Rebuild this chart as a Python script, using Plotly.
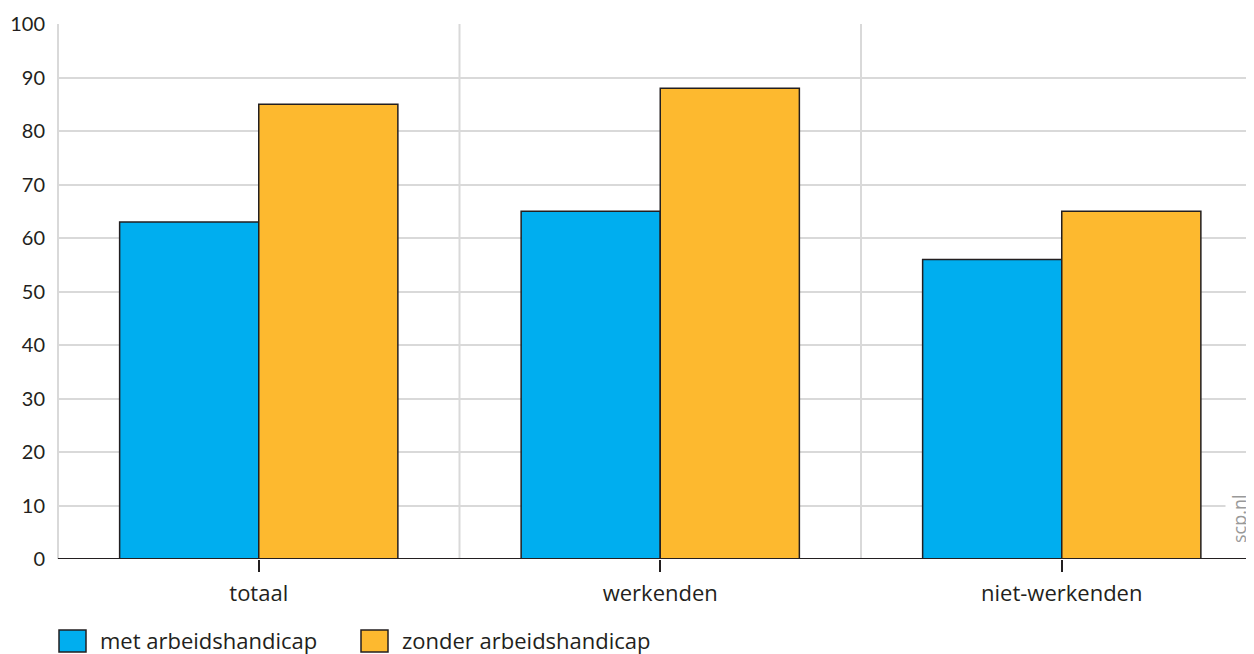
import plotly.graph_objects as go

categories = ["totaal", "werkenden", "niet-werkenden"]
met = [63, 65, 56]
zonder = [85, 88, 65]
series_names = ["met arbeidshandicap", "zonder arbeidshandicap"]
colors = ["#00AEEF", "#FDB92F"]
y_ticks = [0, 10, 20, 30, 40, 50, 60, 70, 80, 90, 100]

xpos = list(range(len(categories)))
fig = go.Figure()
for name, vals, col in zip(series_names, [met, zonder], colors):
    fig.add_trace(go.Bar(x=xpos, y=vals, name=name, marker_color=col,
                         marker_line_color="#231F20", marker_line_width=1.5,
                         showlegend=False))

# page body has an 8px margin; compensate
OFF = 8
W, H = 1254 - OFF, 654 - OFF
ml, mr, mt, mb = 58 - OFF, 0, 24 - OFF, 95
plot_w = W - ml - mr
plot_h = H - mt - mb
cat_px = 401.5
xmax = -0.5 + plot_w / cat_px

shapes = []
for b in [0.5, 1.5]:
    shapes.append(dict(type="line", xref="x", yref="paper", x0=b, x1=b, y0=0, y1=1,
                       line=dict(color="#D9D9D9", width=2), layer="below"))
annotations = []
leg_x = [1, 303]
for i, (name, col) in enumerate(zip(series_names, colors)):
    x0 = leg_x[i]
    shapes.append(dict(type="rect", xref="paper", yref="paper",
                       x0=x0 / plot_w, x1=(x0 + 27) / plot_w,
                       y0=-(652 - 559) / plot_h, y1=-(630 - 559) / plot_h,
                       fillcolor=col, line=dict(color="#231F20", width=1.5)))
    annotations.append(dict(text=name, xref="paper", yref="paper",
                            x=(x0 + 39) / plot_w, y=-(640 - 559) / plot_h,
                            xanchor="left", yanchor="middle", showarrow=False,
                            font=dict(size=22, color="#231F20", family="Open Sans")))
annotations.append(dict(text="scp.nl", xref="paper", yref="paper",
                        x=(1239 - 58) / plot_w, y=(559 - 519) / plot_h,
                        xanchor="center", yanchor="middle", textangle=-90, showarrow=False,
                        bgcolor="white", borderpad=1,
                        font=dict(size=18, color="#999999", family="Open Sans")))

fig.update_layout(
    width=W, height=H, margin=dict(l=ml, r=mr, t=mt, b=mb),
    paper_bgcolor="white", plot_bgcolor="white",
    barmode="group", bargap=0.307, bargroupgap=0,
    shapes=shapes, annotations=annotations,
    xaxis=dict(range=[-0.5, xmax], tickvals=xpos, ticktext=categories,
               showgrid=False, zeroline=False, showline=False,
               ticks="outside", ticklen=12, tickwidth=1.5, tickcolor="#231F20",
               ticklabelstandoff=3,
               tickfont=dict(size=22, color="#231F20", family="Open Sans")),
    yaxis=dict(range=[0, 100], tickvals=y_ticks, showgrid=True, gridcolor="#D9D9D9",
               gridwidth=2, zeroline=False, showline=False,
               ticks="", ticklabelstandoff=12,
               tickfont=dict(size=20, color="#231F20", family="Lato")),
)
fig.add_shape(type="line", xref="paper", yref="paper", x0=0, x1=0, y0=0, y1=1,
              line=dict(color="#D9D9D9", width=2), layer="below")
fig.add_shape(type="line", xref="paper", yref="y", x0=0, x1=1, y0=0, y1=0,
              line=dict(color="#231F20", width=2), layer="above")

fig.write_html("out.html")
